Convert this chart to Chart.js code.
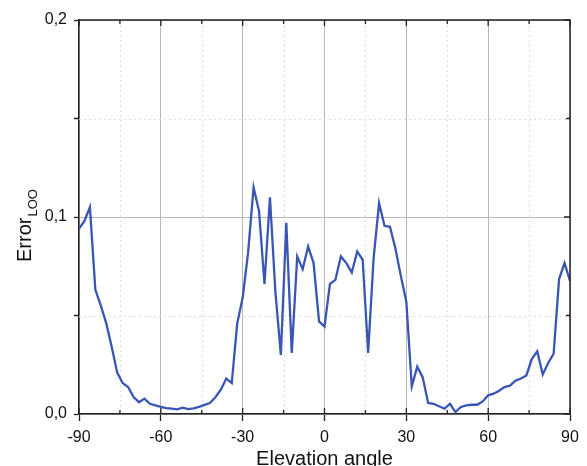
<!DOCTYPE html>
<html>
<head>
<meta charset="utf-8">
<script src="https://cdn.jsdelivr.net/npm/chart.js@4/dist/chart.umd.min.js"></script>
<style>
  html, body { margin: 0; padding: 0; background: #fff; }
  #chart { display: block; }
</style>
</head>
<body>
<canvas id="chart" width="587" height="466"></canvas>
<script>
// Elevation angle (deg)
const angles = [-90, -88, -86, -84, -82, -80, -78, -76, -74, -72, -70, -68, -66, -64, -62, -60,
    -58, -56, -54, -52, -50, -48, -46, -44, -42, -40, -38, -36, -34, -32, -30, -28, -26, -24,
    -22, -20, -18, -16, -14, -12, -10, -8, -6, -4, -2, 0, 2, 4, 6, 8, 10, 12, 14, 16, 18, 20,
    22, 24, 26, 28, 30, 32, 34, 36, 38, 40, 42, 44, 46, 48, 50, 52, 54, 56, 58, 60, 62, 64,
    66, 68, 70, 72, 74, 76, 78, 80, 82, 84, 86, 88, 90];

// Error LOO
const errorLoo = [0.094, 0.098, 0.105, 0.063, 0.055, 0.046, 0.034, 0.021, 0.0157, 0.0137,
    0.0086, 0.006, 0.0078, 0.0052, 0.0044, 0.0036, 0.003, 0.0027, 0.0024, 0.0032, 0.0025,
    0.0029, 0.0036, 0.0046, 0.0056, 0.0085, 0.0123, 0.018, 0.0157, 0.046, 0.059, 0.082,
    0.115, 0.103, 0.066, 0.110, 0.062, 0.030, 0.097, 0.031, 0.080, 0.0735, 0.085, 0.0766,
    0.047, 0.0444, 0.0661, 0.0681, 0.080, 0.0766, 0.0718, 0.0825, 0.0783, 0.031, 0.079,
    0.107, 0.0955, 0.095, 0.084, 0.070, 0.057, 0.014, 0.024, 0.0186, 0.0056, 0.0052,
    0.0039, 0.0027, 0.0052, 0.001, 0.0036, 0.0044, 0.0047, 0.0047, 0.0064, 0.0095, 0.0103,
    0.0118, 0.0137, 0.0144, 0.0169, 0.018, 0.0196, 0.0279, 0.0318, 0.020, 0.0259, 0.0306,
    0.0685, 0.0766, 0.0676];

// minor tick positions (dotted grid)
const xMinorTicks = [-75, -45, -15, 15, 45, 75];
const yMinorTicks = [0.05, 0.15];

const FONT = '"Liberation Sans", Arial, sans-serif';
const AXIS = '#222';

// dotted minor grid, frame, inward ticks and the axis titles
const framePlugin = {
    id: 'frame',
    beforeDatasetsDraw(chart) {
        const { ctx, chartArea: a, scales: { x, y } } = chart;
        ctx.save();
        ctx.strokeStyle = '#dcdcdc';
        ctx.lineWidth = 1;
        ctx.setLineDash([2, 3]);
        xMinorTicks.forEach(v => {
            const px = Math.round(x.getPixelForValue(v)) + 0.5;
            ctx.beginPath(); ctx.moveTo(px, a.top); ctx.lineTo(px, a.bottom); ctx.stroke();
        });
        yMinorTicks.forEach(v => {
            const py = Math.round(y.getPixelForValue(v)) + 0.5;
            ctx.beginPath(); ctx.moveTo(a.left, py); ctx.lineTo(a.right, py); ctx.stroke();
        });
        ctx.restore();
    },
    afterDraw(chart) {
        const { ctx, chartArea: a, scales: { x, y } } = chart;
        ctx.save();
        ctx.strokeStyle = AXIS;
        ctx.lineWidth = 1.5;
        ctx.beginPath();
        ctx.moveTo(a.left, a.top); ctx.lineTo(a.right, a.top); ctx.lineTo(a.right, a.bottom);
        ctx.stroke();

        ctx.lineWidth = 1.3;
        const xMajor = x.ticks.map(t => t.value);
        const yMajor = y.ticks.map(t => t.value);
        ctx.beginPath();
        xMajor.concat(xMinorTicks).forEach(v => {
            const px = x.getPixelForValue(v);
            const len = xMinorTicks.includes(v) ? 4 : 6;
            ctx.moveTo(px, a.top); ctx.lineTo(px, a.top + len);
            ctx.moveTo(px, a.bottom); ctx.lineTo(px, a.bottom - len);
        });
        yMajor.concat(yMinorTicks).forEach(v => {
            const py = y.getPixelForValue(v);
            const len = yMinorTicks.includes(v) ? 4 : 6;
            ctx.moveTo(a.right, py); ctx.lineTo(a.right - len, py);
        });
        yMinorTicks.forEach(v => {
            const py = y.getPixelForValue(v);
            ctx.moveTo(a.left, py); ctx.lineTo(a.left - 5, py);
        });
        ctx.stroke();

        // axis titles
        ctx.fillStyle = '#111';
        ctx.font = '20px ' + FONT;
        ctx.textAlign = 'center';
        ctx.textBaseline = 'alphabetic';
        ctx.fillText('Elevation angle', (a.left + a.right) / 2, 465);

        ctx.translate(31, 262);
        ctx.rotate(-Math.PI / 2);
        ctx.textAlign = 'left';
        ctx.fillText('Error', 0, 0);
        const w = ctx.measureText('Error').width;
        ctx.font = '13px ' + FONT;
        ctx.fillText('LOO', w + 1, 6);
        ctx.restore();
    }
};

const fmt = v => (Math.round(v * 10) / 10).toFixed(1).replace('.', ',');

new Chart(document.getElementById('chart').getContext('2d'), {
    type: 'line',
    data: {
        datasets: [{
            data: angles.map((a, i) => ({ x: a, y: errorLoo[i] })),
            borderColor: '#3a56b4',
            borderWidth: 2.3,
            pointRadius: 0,
            tension: 0,
            fill: false
        }]
    },
    options: {
        responsive: false,
        animation: false,
        layout: { padding: { left: 0, right: 17, top: 20, bottom: 0 } },
        plugins: {
            legend: { display: false },
            tooltip: { enabled: false }
        },
        scales: {
            x: {
                type: 'linear',
                min: -90,
                max: 90,
                afterFit(scale) { scale.height = 52; },
                ticks: {
                    stepSize: 30,
                    padding: 7,
                    color: '#111',
                    font: { family: FONT, size: 16 },
                    maxRotation: 0,
                    autoSkip: false
                },
                grid: { color: '#b8b8b8', lineWidth: 1, tickLength: 7, tickColor: AXIS, tickWidth: 1.3 },
                border: { color: AXIS, width: 1.5 }
            },
            y: {
                min: 0,
                max: 0.2,
                afterFit(scale) { scale.width = 79; },
                ticks: {
                    stepSize: 0.1,
                    padding: 7,
                    color: '#111',
                    font: { family: FONT, size: 16 },
                    callback: v => fmt(v)
                },
                grid: { color: '#b8b8b8', lineWidth: 1, tickLength: 5, tickColor: AXIS, tickWidth: 1.3 },
                border: { color: AXIS, width: 1.5 }
            }
        }
    },
    plugins: [framePlugin]
});
</script>
</body>
</html>
